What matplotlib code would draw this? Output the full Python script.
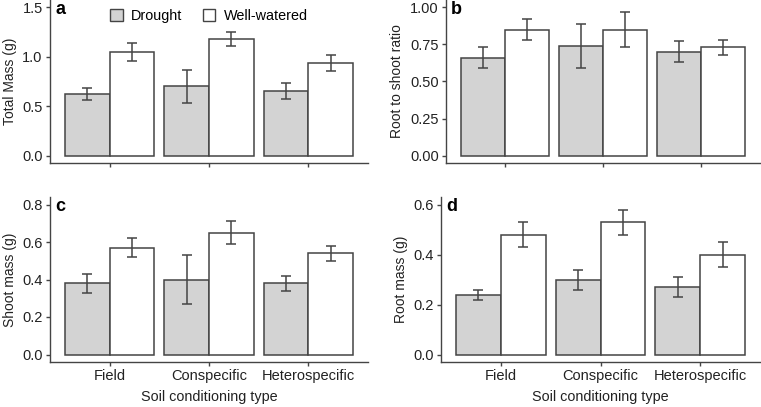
import numpy as np
import matplotlib
matplotlib.use("Agg")
from matplotlib import pyplot as plt
from matplotlib.patches import Patch

plt.rcParams['font.family'] = ['Liberation Sans', 'DejaVu Sans']

# data
soil = ['Field', 'Conspecific', 'Heterospecific']

mass_dr = [0.62, 0.70, 0.65]
mass_dr_lo = [0.56, 0.53, 0.57]
mass_dr_hi = [0.68, 0.87, 0.73]
mass_ww = [1.05, 1.18, 0.94]
mass_ww_lo = [0.96, 1.11, 0.86]
mass_ww_hi = [1.14, 1.25, 1.02]

ratio_dr = [0.66, 0.74, 0.70]
ratio_dr_lo = [0.59, 0.59, 0.63]
ratio_dr_hi = [0.73, 0.89, 0.77]
ratio_ww = [0.85, 0.85, 0.73]
ratio_ww_lo = [0.78, 0.73, 0.68]
ratio_ww_hi = [0.92, 0.97, 0.78]

shoot_dr = [0.38, 0.40, 0.38]
shoot_dr_lo = [0.33, 0.27, 0.34]
shoot_dr_hi = [0.43, 0.53, 0.42]
shoot_ww = [0.57, 0.65, 0.54]
shoot_ww_lo = [0.52, 0.59, 0.50]
shoot_ww_hi = [0.62, 0.71, 0.58]

root_dr = [0.24, 0.30, 0.27]
root_dr_lo = [0.22, 0.26, 0.23]
root_dr_hi = [0.26, 0.34, 0.31]
root_ww = [0.48, 0.53, 0.40]
root_ww_lo = [0.43, 0.48, 0.35]
root_ww_hi = [0.53, 0.58, 0.45]

dark = '#444444'
grey = '#d3d3d3'
W, H = 761, 407

fig = plt.figure(figsize=(W / 100, H / 100), dpi=100)

def px_axes(l, r, t, b):
    return fig.add_axes([l / W, 1 - b / H, (r - l) / W, (b - t) / H])

def panel(ax, dr, dlo, dhi, ww, wlo, whi, ymax, ticks, fmt, ylabel, letter, xlabels):
    x = np.arange(1, len(soil) + 1)
    w = 0.45
    for vals, lo, hi, col, off in [(dr, dlo, dhi, grey, -w / 2), (ww, wlo, whi, 'white', w / 2)]:
        vals = np.array(vals)
        ax.bar(x + off, vals, width=w, color=col, edgecolor=dark, linewidth=1.1, zorder=2)
        err = [vals - np.array(lo), np.array(hi) - vals]
        ax.errorbar(x + off, vals, yerr=err, fmt='none', ecolor=dark, elinewidth=1.1,
                    capsize=3.3, capthick=1.1, zorder=3)
    ax.set_xlim(0.4, 3.6)
    ax.set_ylim(-0.05 * ymax, 1.05 * ymax)
    ax.set_yticks(ticks)
    ax.set_yticklabels([fmt.format(t) for t in ticks])
    ax.set_xticks(x)
    if xlabels:
        ax.set_xticklabels(soil)
        ax.set_xlabel('Soil conditioning type', fontsize=10.4, color='#222222', labelpad=5)
    else:
        ax.set_xticklabels([])
    ax.set_ylabel(ylabel, fontsize=10, color='#222222', labelpad=4)
    for s in ['top', 'right']:
        ax.spines[s].set_visible(False)
    for s in ['left', 'bottom']:
        ax.spines[s].set_color(dark)
        ax.spines[s].set_linewidth(1.0)
    ax.tick_params(colors=dark, labelcolor='#222222', labelsize=10.5, length=2.8, width=1.0, pad=2.5)
    pos = ax.get_position()
    ax.text(5 / (pos.width * W), 1 - 14 / (pos.height * H),
            letter, transform=ax.transAxes, fontsize=13, fontweight='bold',
            va='baseline', ha='left')

ax_a = px_axes(50, 368, 0, 163)
ax_b = px_axes(446, 760, 0, 163)
ax_c = px_axes(50, 368, 197, 362)
ax_d = px_axes(441, 760, 197, 362)

panel(ax_a, mass_dr, mass_dr_lo, mass_dr_hi, mass_ww, mass_ww_lo, mass_ww_hi,
      1.5, [0, 0.5, 1.0, 1.5], '{:.1f}', 'Total Mass (g)', 'a', False)
panel(ax_b, ratio_dr, ratio_dr_lo, ratio_dr_hi, ratio_ww, ratio_ww_lo, ratio_ww_hi,
      1.0, [0, 0.25, 0.5, 0.75, 1.0], '{:.2f}', 'Root to shoot ratio', 'b', False)
panel(ax_c, shoot_dr, shoot_dr_lo, shoot_dr_hi, shoot_ww, shoot_ww_lo, shoot_ww_hi,
      0.8, [0, 0.2, 0.4, 0.6, 0.8], '{:.1f}', 'Shoot mass (g)', 'c', True)
panel(ax_d, root_dr, root_dr_lo, root_dr_hi, root_ww, root_ww_lo, root_ww_hi,
      0.6, [0, 0.2, 0.4, 0.6], '{:.1f}', 'Root mass (g)', 'd', True)

handles = [Patch(facecolor=grey, edgecolor=dark, linewidth=1.0, label='Drought'),
           Patch(facecolor='white', edgecolor=dark, linewidth=1.0, label='Well-watered')]
ax_a.legend(handles=handles, loc='center', bbox_to_anchor=(0.5, 1 - 16 / 163), ncol=2, frameon=False,
            fontsize=10.4, handlelength=0.85, handleheight=0.85, handletextpad=0.6, columnspacing=1.4,
            borderpad=0)

fig.savefig('out.png', dpi=100)
